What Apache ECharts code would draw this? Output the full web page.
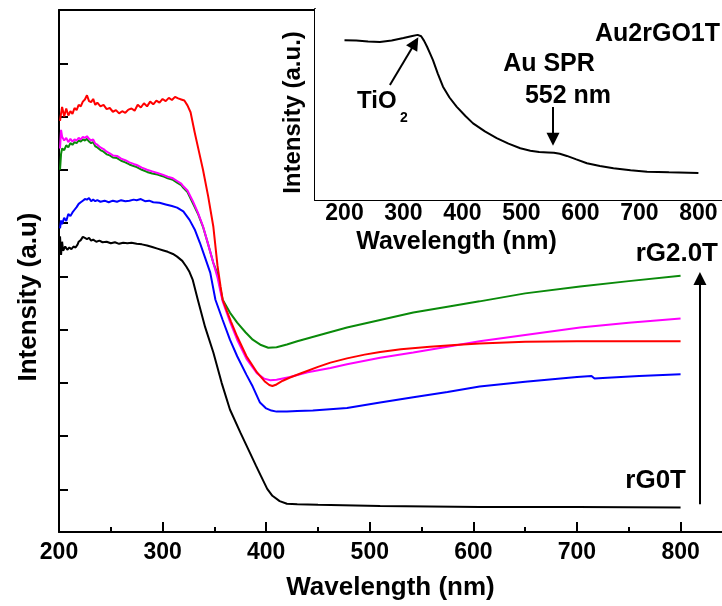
<!DOCTYPE html>
<html>
<head>
<meta charset="utf-8">
<script src="https://cdn.jsdelivr.net/npm/echarts@6.0.0/dist/echarts.min.js"></script>
<style>
  html, body { margin: 0; padding: 0; background: #fff; }
  #chart { width: 722px; height: 606px; }
</style>
</head>
<body>
<div id="chart"></div>
<script>
// main panel: wavelength (nm) / intensity (a.u.)
const redX = [201,202,203,205,207,209,211,213,215,217,219,221,223,225,227,229,231,233,235,237,240,243,246,249,252,255,258,261,264,267,270,273,276,279,282,285,288,291,294,297,300,303,306,309,312,315,318,321,324,327,331,335,339,344,349,353,356,358,362,366,372,381,391,399,403,406,410,416,423,435,450,462,478,495,510,530,558,582,606,650,700,750,800];
const redY = [7.72,7.86,7.98,7.80,7.95,7.82,7.90,7.85,7.96,7.92,8.02,7.99,8.08,8.12,8.20,8.09,8.07,8.13,8.02,8.06,7.99,8.02,7.94,7.96,7.89,7.92,7.86,7.90,7.87,7.93,7.95,7.91,8.02,7.97,8.05,7.99,8.08,8.03,8.10,8.06,8.13,8.09,8.15,8.11,8.17,8.14,8.12,8.10,8.01,7.88,7.50,7.15,6.80,6.30,5.73,5.00,4.60,4.36,4.15,3.95,3.67,3.30,3.00,2.82,2.76,2.74,2.77,2.84,2.90,2.99,3.10,3.18,3.26,3.33,3.38,3.43,3.48,3.51,3.54,3.57,3.58,3.58,3.58];

const magX = [201,202,203,205,207,209,211,213,215,217,219,221,223,225,227,229,231,233,235,237,240,243,246,249,252,256,260,264,268,272,275,280,285,290,295,300,305,310,314,318,320,324,329,334,339,344,349,353,356,358,365,372,381,391,398,404,410,423,440,462,478,510,542,582,606,650,703,750,800];
const magY = [7.20,7.55,7.42,7.35,7.40,7.32,7.38,7.33,7.37,7.35,7.40,7.37,7.42,7.40,7.43,7.38,7.35,7.37,7.29,7.27,7.22,7.19,7.14,7.11,7.07,7.06,7.01,6.98,6.94,6.91,6.89,6.84,6.80,6.77,6.74,6.71,6.67,6.64,6.59,6.54,6.49,6.41,6.22,6.00,5.74,5.40,5.05,4.78,4.50,4.33,3.95,3.61,3.25,2.98,2.88,2.85,2.86,2.91,3.00,3.08,3.15,3.27,3.37,3.50,3.58,3.70,3.84,3.93,4.01];

const greenX = [201,202,203,205,207,209,211,213,215,217,219,221,223,225,227,229,231,233,235,237,240,243,246,249,252,256,260,264,268,272,275,280,285,290,295,300,305,310,314,318,320,324,329,334,339,344,349,353,356,358,365,372,380,387,395,402,410,420,430,450,478,510,542,575,606,650,703,750,800];
const greenY = [6.80,7.10,7.20,7.17,7.26,7.22,7.30,7.27,7.32,7.30,7.35,7.33,7.37,7.35,7.38,7.33,7.30,7.32,7.24,7.22,7.17,7.14,7.09,7.07,7.03,7.02,6.97,6.94,6.90,6.87,6.85,6.80,6.76,6.73,6.71,6.68,6.64,6.61,6.56,6.51,6.46,6.38,6.18,5.98,5.73,5.40,5.05,4.85,4.55,4.36,4.12,3.93,3.75,3.61,3.51,3.46,3.47,3.52,3.58,3.69,3.84,3.98,4.12,4.23,4.33,4.48,4.61,4.71,4.81];

const blueX = [201,202,203,205,207,209,211,213,215,217,219,221,223,225,227,229,231,233,235,237,240,244,248,252,256,260,264,268,272,275,279,283,287,291,297,303,309,314,320,326,331,336,341,346,351,358,365,372,381,387,394,400,405,410,420,430,445,478,510,542,575,606,650,700,714,717,725,760,800];
const blueY = [5.70,5.85,5.78,5.90,5.84,5.97,5.93,6.00,6.05,6.10,6.16,6.19,6.22,6.25,6.24,6.27,6.21,6.24,6.21,6.23,6.20,6.22,6.19,6.22,6.20,6.23,6.21,6.22,6.24,6.23,6.25,6.21,6.22,6.19,6.18,6.15,6.12,6.09,6.02,5.86,5.68,5.43,5.15,4.87,4.36,3.98,3.61,3.30,2.95,2.73,2.43,2.32,2.28,2.26,2.26,2.27,2.28,2.33,2.43,2.53,2.63,2.73,2.82,2.91,2.93,2.88,2.89,2.93,2.96];

const blackX = [201,202,203,204,206,208,210,212,214,216,218,219,221,223,225,227,229,231,233,236,239,242,246,250,254,258,262,266,270,275,280,285,290,295,300,305,310,314,319,323,326,329,334,341,349,357,365,375,384,390,395,401,406,413,420,430,450,510,606,700,800];
const blackY = [5.55,5.20,5.45,5.28,5.36,5.30,5.34,5.31,5.36,5.34,5.40,5.45,5.48,5.54,5.52,5.50,5.52,5.47,5.49,5.45,5.47,5.44,5.45,5.42,5.44,5.41,5.43,5.42,5.43,5.41,5.40,5.38,5.35,5.32,5.29,5.26,5.22,5.17,5.09,4.98,4.88,4.74,4.36,3.85,3.37,2.80,2.30,1.87,1.50,1.25,1.05,0.81,0.68,0.58,0.53,0.52,0.51,0.49,0.47,0.47,0.46];

// inset: Au2rGO1T
const insetX = [200,220,240,260,280,300,315,324,330,335,340,345,350,358,367,378,390,405,418,438,458,478,498,515,530,545,555,565,577,593,611,633,656,685,713,750,800];
const insetY = [4.57,4.56,4.53,4.52,4.56,4.63,4.69,4.72,4.68,4.55,4.38,4.19,4.00,3.62,3.24,2.93,2.67,2.40,2.19,1.96,1.77,1.61,1.48,1.41,1.37,1.36,1.35,1.32,1.26,1.16,1.05,0.97,0.91,0.85,0.81,0.79,0.77];

// ticks
const mainXTicks = [200,300,400,500,600,700,800];
const mainXMinor = [250,350,450,550,650,750];
const mainYTicks = [0.8,1.8,2.8,3.8,4.8,5.8,6.8,7.8,8.8];
const insetXTicks = [200,300,400,500,600,700,800];
const insetXMinor = [250,350,450,550,650,750];
const insetYTicks = [0.5,1.5,2.5,3.5,4.5];
const insetYMinor = [1,2,3,4,5];

const zip = (xs, ys) => xs.map((x, i) => [x, ys[i]]);
const FONT = '"Liberation Sans", Arial, sans-serif';

const chart = echarts.init(document.getElementById('chart'));

function lineSeries(name, xs, ys, color, xi, yi, extra) {
  return Object.assign({
    name: name,
    type: 'line',
    xAxisIndex: xi,
    yAxisIndex: yi,
    data: zip(xs, ys),
    showSymbol: false,
    symbol: 'none',
    silent: true,
    lineStyle: { color: color, width: 2 },
    z: 3
  }, extra || {});
}

// arrows drawn in data coords
function arrows(pairs) {
  return {
    silent: true,
    symbol: ['none', 'triangle'],
    symbolSize: 13,
    label: { show: false },
    lineStyle: { color: '#000', width: 2, type: 'solid' },
    data: pairs.map(p => [{ coord: p[0] }, { coord: p[1] }]),
    animation: false
  };
}

const axisLine = { show: true, onZero: false, lineStyle: { color: '#000', width: 2 } };
const bold = (size) => ({ color: '#000', fontSize: size, fontWeight: 'bold' });

chart.setOption({
  animation: false,
  backgroundColor: '#fff',
  textStyle: { fontFamily: FONT },
  grid: [
    { left: 59, top: 10, right: 0, bottom: 73 },
    { left: 315, top: 9, right: 0, height: 191, show: true, backgroundColor: '#fff', borderWidth: 0, z: 5 }
  ],
  xAxis: [
    {
      gridIndex: 0, type: 'value', min: 200, max: 840, position: 'bottom',
      axisLine: axisLine,
      axisTick: { inside: true, length: 10, lineStyle: { color: '#000', width: 2 }, customValues: mainXTicks },
      axisLabel: Object.assign({ customValues: mainXTicks, margin: 9 }, bold(23)),
      splitLine: { show: false },
      name: 'Wavelength (nm)', nameLocation: 'middle', nameGap: 43,
      nameTextStyle: bold(26)
    },
    {
      gridIndex: 0, type: 'value', min: 200, max: 840, position: 'bottom',
      axisLine: { show: false },
      axisTick: { inside: true, length: 5, lineStyle: { color: '#000', width: 2 }, customValues: mainXMinor },
      axisLabel: { show: false }, splitLine: { show: false }
    },
    {
      gridIndex: 0, type: 'value', min: 200, max: 840, position: 'top',
      axisLine: axisLine, axisTick: { show: false }, axisLabel: { show: false }, splitLine: { show: false }
    },
    {
      gridIndex: 1, type: 'value', min: 150, max: 840, position: 'bottom',
      axisLine: axisLine,
      axisTick: { inside: true, length: 5, lineStyle: { color: '#000', width: 2 }, customValues: insetXTicks },
      axisLabel: Object.assign({ customValues: insetXTicks, margin: 2 }, bold(23)),
      splitLine: { show: false },
      name: 'Wavelength (nm)', nameLocation: 'middle', nameGap: 30,
      nameTextStyle: Object.assign({ padding: [0, 124, 0, 0] }, bold(25))
    },
    {
      gridIndex: 1, type: 'value', min: 150, max: 840, position: 'bottom',
      axisLine: { show: false },
      axisTick: { inside: true, length: 3, lineStyle: { color: '#000', width: 2 }, customValues: insetXMinor },
      axisLabel: { show: false }, splitLine: { show: false }
    }
  ],
  yAxis: [
    {
      gridIndex: 0, type: 'value', min: 0, max: 9.8,
      axisLine: axisLine,
      axisTick: { inside: true, length: 9, lineStyle: { color: '#000', width: 2 }, customValues: mainYTicks },
      axisLabel: { show: false },
      splitLine: { show: false },
      name: 'Intensity (a.u)', nameLocation: 'middle', nameGap: 17,
      nameTextStyle: Object.assign({ padding: [0, 52, 0, 0] }, bold(26))
    },
    {
      gridIndex: 1, type: 'value', min: 0, max: 5.46,
      axisLine: axisLine,
      axisTick: { inside: true, length: 7, lineStyle: { color: '#000', width: 2 }, customValues: insetYTicks },
      axisLabel: { show: false },
      splitLine: { show: false },
      name: 'Intensity (a.u.)', nameLocation: 'middle', nameGap: 10,
      nameTextStyle: Object.assign({ padding: [0, 16, 0, 0] }, bold(24))
    },
    {
      gridIndex: 1, type: 'value', min: 0, max: 5.46,
      axisLine: { show: false },
      axisTick: { inside: true, length: 4, lineStyle: { color: '#000', width: 2 }, customValues: insetYMinor },
      axisLabel: { show: false }, splitLine: { show: false }
    }
  ],
  series: [
    lineSeries('rG0T', blackX, blackY, '#000000', 0, 0, {
      markLine: arrows([[[818.7, 0.52], [818.7, 4.76]]])
    }),
    lineSeries('blue', blueX, blueY, '#0000ff', 0, 0),
    lineSeries('green', greenX, greenY, '#0a8a0a', 0, 0),
    lineSeries('magenta', magX, magY, '#ff00ff', 0, 0),
    lineSeries('red', redX, redY, '#ff0000', 0, 0),
    lineSeries('Au2rGO1T', insetX, insetY, '#000000', 3, 1, {
      z: 6,
      markLine: arrows([
        [[277, 3.29], [319.5, 4.49]],
        [[553.5, 2.66], [553.5, 1.74]]
      ])
    })
  ],
  graphic: [
    { type: 'text', z: 100, x: 720, y: 34, style: { text: 'Au2rGO1T', font: 'bold 25px ' + FONT, fill: '#000', align: 'right', verticalAlign: 'middle' } },
    { type: 'text', z: 100, x: 549, y: 64, style: { text: 'Au SPR', font: 'bold 25px ' + FONT, fill: '#000', align: 'center', verticalAlign: 'middle' } },
    { type: 'text', z: 100, x: 568, y: 96, style: { text: '552 nm', font: 'bold 25px ' + FONT, fill: '#000', align: 'center', verticalAlign: 'middle' } },
    { type: 'text', z: 100, x: 357, y: 101, style: { text: 'TiO', font: 'bold 24px ' + FONT, fill: '#000', align: 'left', verticalAlign: 'middle' } },
    { type: 'text', z: 100, x: 400, y: 118, style: { text: '2', font: 'bold 14px ' + FONT, fill: '#000', align: 'left', verticalAlign: 'middle' } },
    { type: 'text', z: 100, x: 718, y: 254, style: { text: 'rG2.0T', font: 'bold 26px ' + FONT, fill: '#000', align: 'right', verticalAlign: 'middle' } },
    { type: 'text', z: 100, x: 686, y: 481, style: { text: 'rG0T', font: 'bold 26px ' + FONT, fill: '#000', align: 'right', verticalAlign: 'middle' } }
  ]
});
</script>
</body>
</html>
